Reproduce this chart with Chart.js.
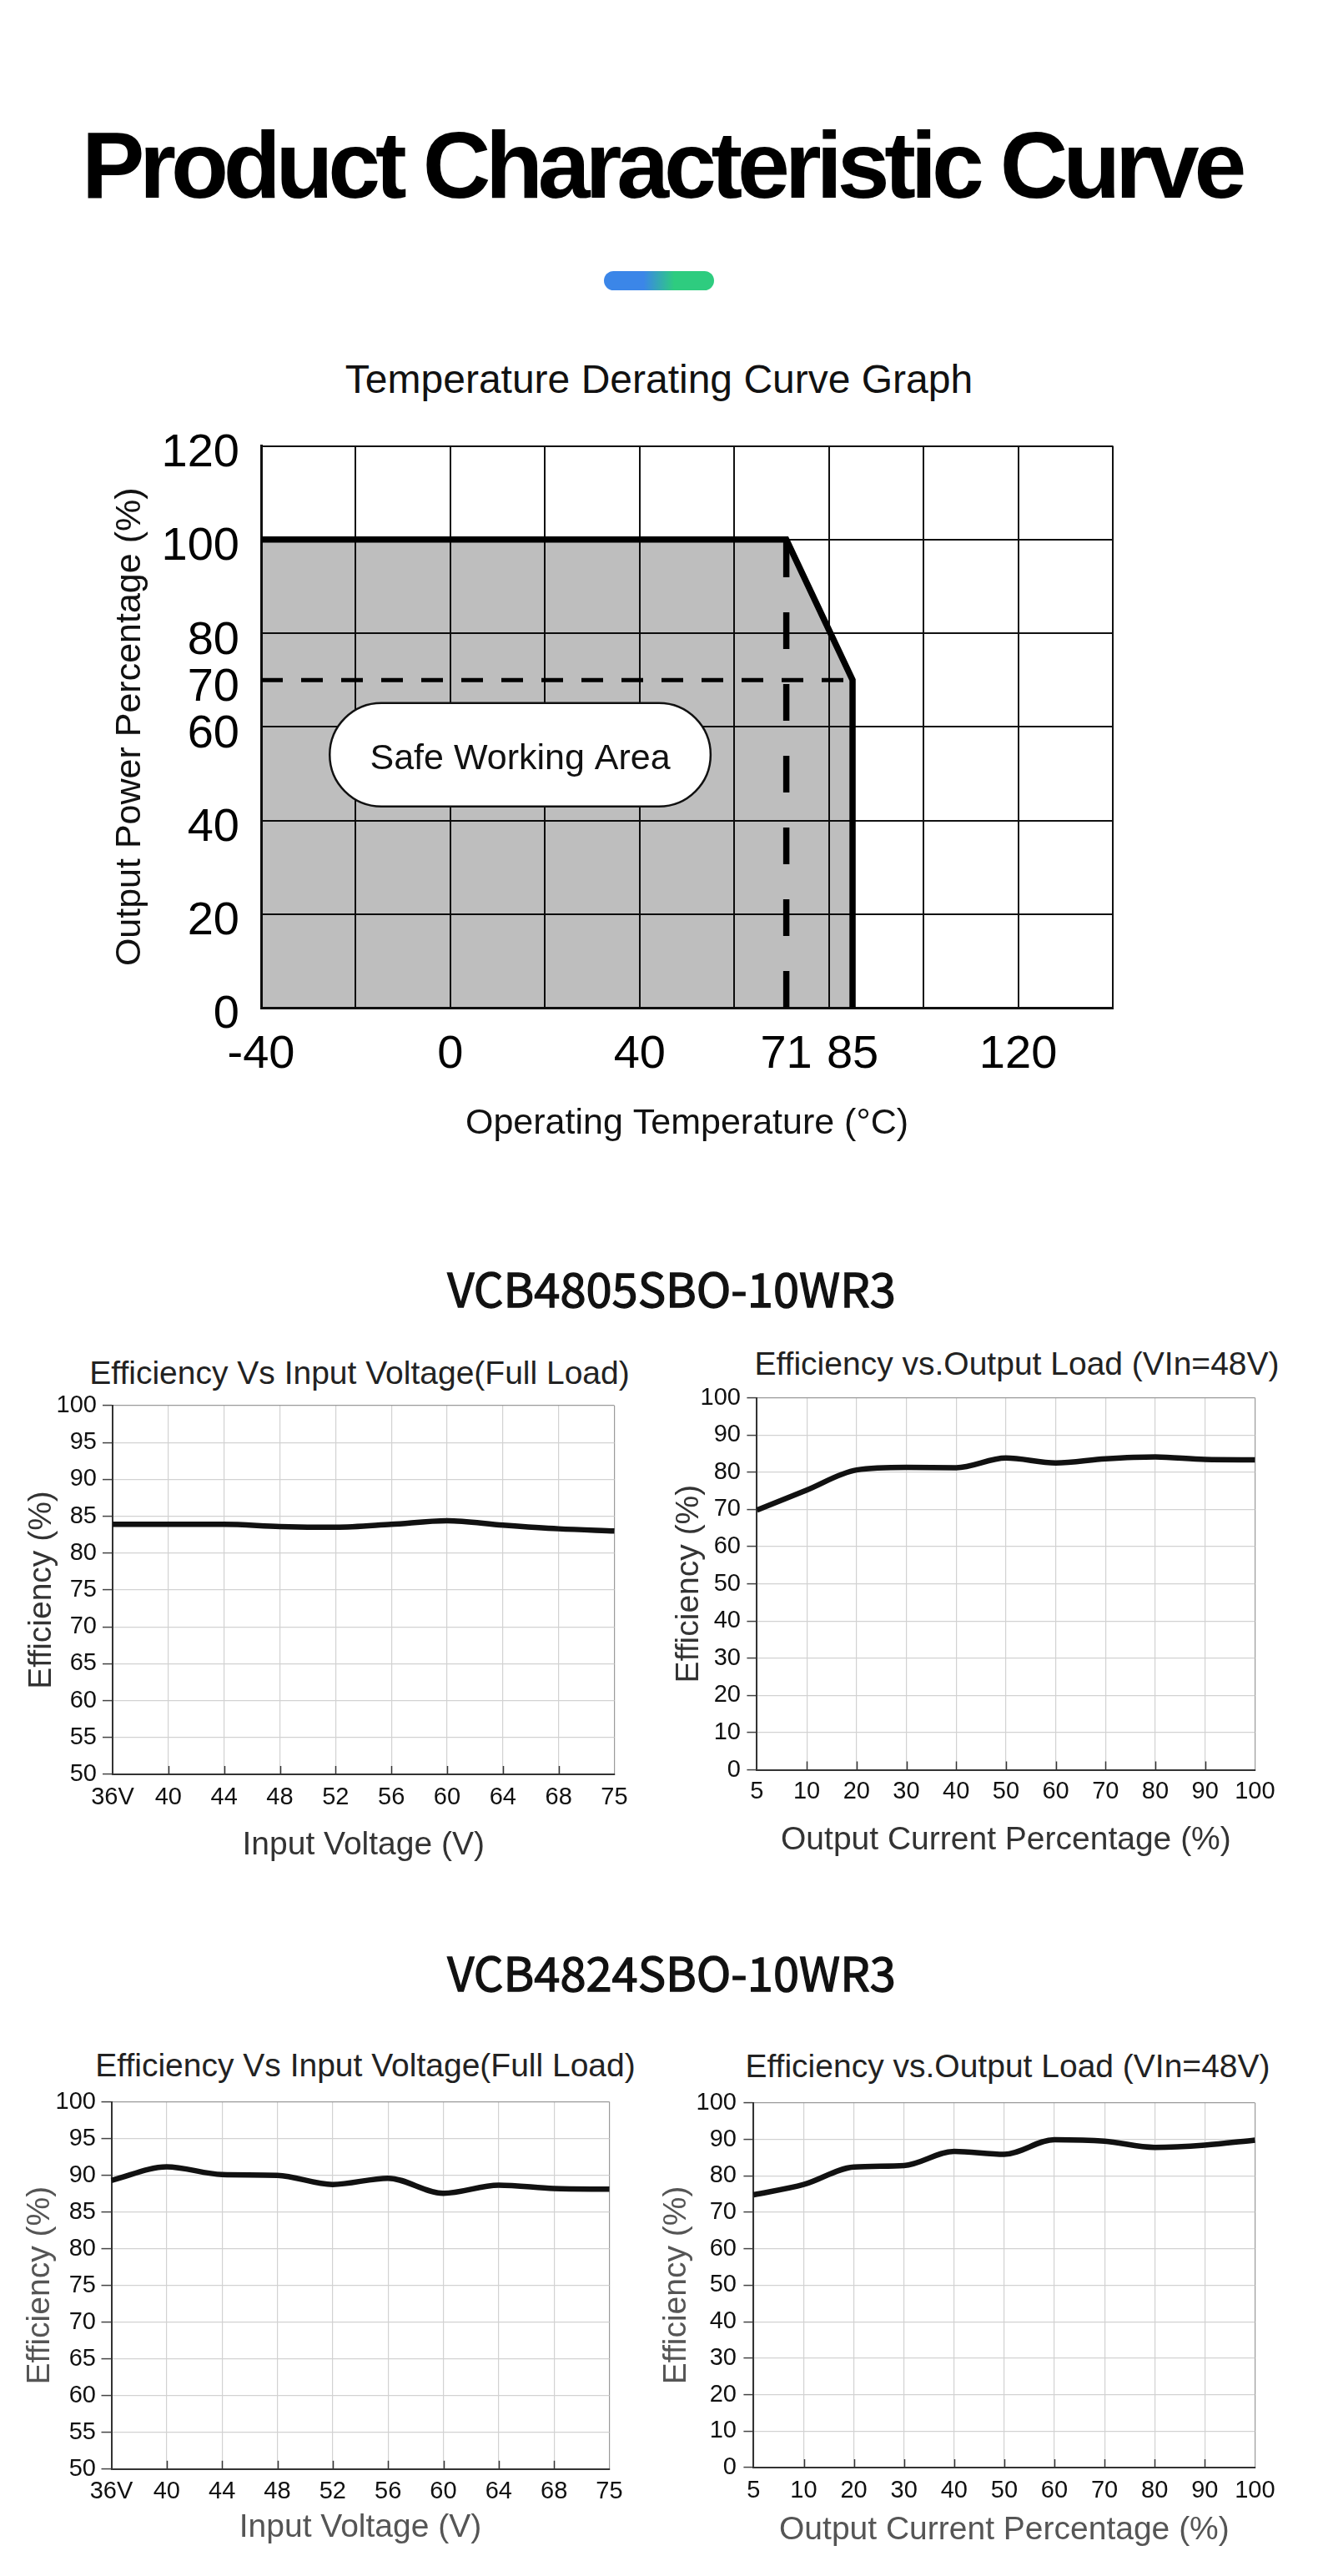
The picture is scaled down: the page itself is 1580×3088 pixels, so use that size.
<!DOCTYPE html>
<html>
<head>
<meta charset="utf-8">
<script src="https://cdn.jsdelivr.net/npm/chart.js@4.4.1/dist/chart.umd.min.js"></script>
<style>
html, body { margin: 0; padding: 0; background: #ffffff; }
body { width: 1580px; height: 3088px; position: relative; overflow: hidden; font-family: "Liberation Sans", Arial, sans-serif; }
.t { position: absolute; white-space: nowrap; transform: translateX(-50%); color: #111; }
canvas { position: absolute; }
#bar { position: absolute; left: 724px; top: 325px; width: 132px; height: 23px; border-radius: 11.5px;
  background: linear-gradient(90deg, #3b86e8 0%, #3b86e8 36%, #2ecc7f 64%, #2ecc7f 100%); }
#head1, #head2 { -webkit-text-stroke: 1.3px #111; }
</style>
</head>
<body>
<div id="mainTitle" class="t">Product Characteristic Curve</div>
<div id="bar"></div>
<div id="derTitle" class="t">Temperature Derating Curve Graph</div>
<div id="head1" class="t">VCB4805SBO-10WR3</div>
<div id="head2" class="t">VCB4824SBO-10WR3</div>
<div id="e1Title" class="t">Efficiency Vs Input Voltage(Full Load)</div>
<div id="e2Title" class="t">Efficiency vs.Output Load (VIn=48V)</div>
<div id="e3Title" class="t">Efficiency Vs Input Voltage(Full Load)</div>
<div id="e4Title" class="t">Efficiency vs.Output Load (VIn=48V)</div>
<script>
// ================= DATA =================
// Temperature derating curve
const deratingTemps = [-40, 71, 85, 85];
const deratingPower = [100, 100, 70, 0];
const deratingXTickValues = [-40, -20, 0, 20, 40, 60, 71, 80, 85, 100, 120, 140];
const deratingXTickLabels = ['-40', '', '0', '', '40', '', '71', '', '85', '', '120', ''];
const deratingYTickValues = [0, 20, 40, 60, 70, 80, 100, 120];
const deratingYTickLabels = ['0', '20', '40', '60', '70', '80', '100', '120'];
const deratingNoGridX = [71, 85];
const deratingNoGridY = [70];
const safeAreaText = 'Safe Working Area';

// Efficiency charts
const inputVoltageLabels = ['36V', '40', '44', '48', '52', '56', '60', '64', '68', '75'];
const outputLoadLabels = ['5', '10', '20', '30', '40', '50', '60', '70', '80', '90', '100'];
const effVinTickValues = [50, 55, 60, 65, 70, 75, 80, 85, 90, 95, 100];
const effVinTickLabels = ['50', '55', '60', '65', '70', '75', '80', '85', '90', '95', '100'];
const effLoadTickValues = [0, 10, 20, 30, 40, 50, 60, 70, 80, 90, 100];
const effLoadTickLabels = ['0', '10', '20', '30', '40', '50', '60', '70', '80', '90', '100'];

const vcb4805EffVsVin  = [83.9, 83.9, 83.9, 83.6, 83.5, 83.9, 84.4, 83.8, 83.3, 83.0];
const vcb4805EffVsLoad = [69.8, 75.2, 80.6, 81.3, 81.2, 83.8, 82.5, 83.6, 84.1, 83.4, 83.3];
const vcb4824EffVsVin  = [89.3, 91.15, 90.1, 90.0, 88.75, 89.6, 87.55, 88.65, 88.2, 88.1];
const vcb4824EffVsLoad = [74.8, 77.6, 82.4, 82.8, 86.7, 85.9, 89.9, 89.5, 87.8, 88.4, 89.8];

// ================= LAYOUT / STYLE =================
const FONT = '"Liberation Sans", Arial, sans-serif';
const CJK = '"Noto Sans CJK SC", "Noto Sans", sans-serif';

function placeText(id, cx, capMid, css, extra) {
  const el = document.getElementById(id);
  const m = document.createElement('canvas').getContext('2d');
  m.font = css;
  const tm = m.measureText('H');
  const asc = tm.fontBoundingBoxAscent, desc = tm.fontBoundingBoxDescent;
  const capH = tm.actualBoundingBoxAscent;
  const fs = parseFloat(css.match(/([\d.]+)px/)[1]);
  const baseline = (fs - (asc + desc)) / 2 + asc;
  el.style.font = css;
  el.style.lineHeight = fs + 'px';
  el.style.left = cx + 'px';
  el.style.top = (capMid - (baseline - capH / 2)) + 'px';
  if (extra) Object.assign(el.style, extra);
}

placeText('mainTitle', 793, 198, 'bold 113px ' + FONT, { letterSpacing: '-6.2px', color: '#000' });
placeText('derTitle', 790, 455, '48px ' + FONT, { color: '#111' });
placeText('head1', 805, 1546.5, '56px ' + CJK, { color: '#111' });
placeText('head2', 805, 2366.5, '56px ' + CJK, { color: '#111' });
placeText('e1Title', 431, 1645.5, '39px ' + FONT, { color: '#222' });
placeText('e2Title', 1219, 1634, '39px ' + FONT, { color: '#222' });
placeText('e3Title', 438, 2475, '39px ' + FONT, { color: '#222' });
placeText('e4Title', 1208, 2476, '39px ' + FONT, { color: '#222' });

Chart.defaults.font.family = FONT;
Chart.defaults.devicePixelRatio = 1;

function makeCanvas(box) {
  const c = document.createElement('canvas');
  c.width = box[2]; c.height = box[3];
  c.style.left = box[0] + 'px'; c.style.top = box[1] + 'px';
  c.style.width = box[2] + 'px'; c.style.height = box[3] + 'px';
  document.body.appendChild(c);
  return c;
}

// geometry helper: canvas box + wanted chart area and label positions (absolute px)
function geometry(g) {
  const [cx, cy, cw, ch] = g.canvas;
  const [L, T, R, B] = g.area;
  return {
    padding: { left: 0, top: T - cy, right: cx + cw - R, bottom: 0 },
    yWidth: L - cx,
    xHeight: cy + ch - B,
    yTickPad: L - (g.yTickLen || 0) - g.yLabelRight,
    xTickPad: g.xLabelY - B - (g.xTickLen || 0) - 1.2 * g.tickSize / 2,
    yTitlePad: g.yTitleX - cx - g.titleSize / 2,
    xTitlePad: cy + ch - g.xTitleY - g.titleSize / 2
  };
}

// inward tick marks on the x axis
const innerTicks = {
  id: 'innerTicks',
  afterDatasetsDraw(chart, args, opts) {
    if (!opts || !opts.on) return;
    const xs = chart.scales.x, ctx = chart.ctx, b = chart.chartArea.bottom;
    ctx.save();
    ctx.strokeStyle = '#333'; ctx.lineWidth = 1.5;
    for (let i = 1; i < xs.ticks.length - 1; i++) {
      const x = Math.round(xs.getPixelForTick(i)) + 0.5;
      ctx.beginPath(); ctx.moveTo(x, b); ctx.lineTo(x, b - 10); ctx.stroke();
    }
    ctx.restore();
  }
};

function efficiencyChart(spec) {
  const g = geometry(spec.geo);
  const canvas = makeCanvas(spec.geo.canvas);
  const tickFont = { size: spec.geo.tickSize, family: FONT };
  const titleFont = { size: spec.geo.titleSize, family: FONT, lineHeight: 1 };
  const lastX = spec.labels.length - 1;
  return new Chart(canvas, {
    type: 'line',
    data: {
      labels: spec.labels,
      datasets: [{
        data: spec.values,
        borderColor: '#111',
        borderWidth: 6.5,
        pointRadius: 0,
        cubicInterpolationMode: 'monotone',
        fill: false
      }]
    },
    options: {
      responsive: false,
      animation: false,
      events: [],
      layout: { padding: g.padding },
      plugins: { legend: { display: false }, tooltip: { enabled: false }, innerTicks: { on: true } },
      scales: {
        x: {
          type: 'category',
          offset: false,
          afterFit: s => { s.height = g.xHeight; },
          grid: { color: c => (c.index === lastX ? '#9a9a9a' : '#d2d2d2'), lineWidth: 1.2, drawTicks: false },
          border: { display: true, color: '#333', width: 2 },
          ticks: { font: tickFont, color: '#111', padding: g.xTickPad, autoSkip: false, maxRotation: 0 },
          title: { display: true, text: spec.xTitle, font: titleFont, color: spec.titleColor, padding: { top: 0, bottom: g.xTitlePad } }
        },
        y: {
          type: 'linear',
          min: spec.yTicks[0],
          max: spec.yTicks[spec.yTicks.length - 1],
          afterBuildTicks: s => { s.ticks = spec.yTicks.map(v => ({ value: v })); },
          afterFit: s => { s.width = g.yWidth; },
          grid: {
            color: c => (c.tick && c.tick.value === spec.yTicks[spec.yTicks.length - 1] ? '#9a9a9a' : '#d2d2d2'),
            lineWidth: 1.2, drawTicks: true, tickLength: spec.geo.yTickLen, tickColor: '#444', tickWidth: 1.5
          },
          border: { display: true, color: '#333', width: 2 },
          ticks: {
            font: tickFont, color: '#111', padding: g.yTickPad, autoSkip: false,
            callback: (v, i) => spec.yLabels[i]
          },
          title: { display: true, text: 'Efficiency (%)', font: titleFont, color: spec.titleColor, padding: { top: g.yTitlePad, bottom: 0 } }
        }
      }
    },
    plugins: [innerTicks]
  });
}

// ---------- Derating chart ----------
const safeAreaBox = { xMin: -25.5, xMax: 55, yMin: 43, yMax: 65.1 };
const safeAreaPlugin = {
  id: 'safeArea',
  afterDatasetsDraw(chart) {
    const xs = chart.scales.x, ys = chart.scales.y, ctx = chart.ctx;
    const l = xs.getPixelForValue(safeAreaBox.xMin), r = xs.getPixelForValue(safeAreaBox.xMax);
    const t = ys.getPixelForValue(safeAreaBox.yMax), b = ys.getPixelForValue(safeAreaBox.yMin);
    const rad = (b - t) / 2;
    ctx.save();
    ctx.beginPath();
    ctx.moveTo(l + rad, t);
    ctx.lineTo(r - rad, t);
    ctx.arc(r - rad, t + rad, rad, -Math.PI / 2, Math.PI / 2);
    ctx.lineTo(l + rad, b);
    ctx.arc(l + rad, t + rad, rad, Math.PI / 2, Math.PI * 1.5);
    ctx.closePath();
    ctx.fillStyle = '#ffffff';
    ctx.fill();
    ctx.lineWidth = 2.5; ctx.strokeStyle = '#111';
    ctx.stroke();
    ctx.fillStyle = '#111';
    ctx.font = '43px ' + FONT;
    ctx.textAlign = 'center'; ctx.textBaseline = 'middle';
    ctx.fillText(safeAreaText, (l + r) / 2, (t + b) / 2 + 5);
    ctx.restore();
  }
};

(function () {
  const geo = {
    canvas: [0, 475, 1580, 925], area: [313, 527, 1334, 1208],
    yLabelRight: 287, yTickLen: 0, yTitleX: 156,
    xLabelY: 1265, xTickLen: 0, xTitleY: 1347,
    tickSize: 56, titleSize: 43
  };
  const g = geometry(geo);
  const canvas = makeCanvas(geo.canvas);
  const kneeT = deratingTemps[1], endT = deratingTemps[2], derated = deratingPower[2];
  const pts = deratingTemps.map((t, i) => ({ x: t, y: deratingPower[i] }));
  const tickFont = { size: geo.tickSize, family: FONT };
  const titleFont = { size: geo.titleSize, family: FONT, lineHeight: 1 };
  new Chart(canvas, {
    type: 'line',
    data: {
      datasets: [
        { data: pts, borderColor: '#000', borderWidth: 7.5, pointRadius: 0, tension: 0,
          fill: 'origin', backgroundColor: 'rgba(0,0,0,0.255)', borderJoinStyle: 'miter' },
        { data: [{ x: kneeT, y: deratingPower[3] }, { x: kneeT, y: deratingPower[0] }],
          borderColor: '#000', borderWidth: 7.5, borderDash: [44, 42], pointRadius: 0, fill: false },
        { data: [{ x: deratingTemps[0], y: derated }, { x: endT, y: derated }],
          borderColor: '#000', borderWidth: 5, borderDash: [26, 22], pointRadius: 0, fill: false }
      ]
    },
    options: {
      responsive: false,
      animation: false,
      events: [],
      layout: { padding: g.padding },
      plugins: { legend: { display: false }, tooltip: { enabled: false }, filler: { drawTime: 'beforeDatasetsDraw' } },
      scales: {
        x: {
          type: 'linear',
          min: deratingXTickValues[0],
          max: deratingXTickValues[deratingXTickValues.length - 1],
          afterBuildTicks: s => { s.ticks = deratingXTickValues.map(v => ({ value: v })); },
          afterFit: s => { s.height = g.xHeight; },
          grid: { color: c => (c.tick && deratingNoGridX.includes(c.tick.value) ? 'rgba(0,0,0,0)' : '#111'), lineWidth: 2, drawTicks: false },
          border: { display: true, color: '#111', width: 3 },
          ticks: { font: tickFont, color: '#000', padding: g.xTickPad, autoSkip: false, maxRotation: 0,
            callback: (v, i) => deratingXTickLabels[i] },
          title: { display: true, text: 'Operating Temperature (°C)', font: titleFont, color: '#111', padding: { top: 0, bottom: g.xTitlePad } }
        },
        y: {
          type: 'linear',
          min: deratingYTickValues[0],
          max: deratingYTickValues[deratingYTickValues.length - 1],
          afterBuildTicks: s => { s.ticks = deratingYTickValues.map(v => ({ value: v })); },
          afterFit: s => { s.width = g.yWidth; },
          grid: { color: c => (c.tick && deratingNoGridY.includes(c.tick.value) ? 'rgba(0,0,0,0)' : '#111'), lineWidth: 2, drawTicks: false },
          border: { display: true, color: '#111', width: 3 },
          ticks: { font: tickFont, color: '#000', padding: g.yTickPad, labelOffset: 9, autoSkip: false,
            callback: (v, i) => deratingYTickLabels[i] },
          title: { display: true, text: 'Output Power Percentage (%)', font: titleFont, color: '#111', padding: { top: g.yTitlePad, bottom: 0 } }
        }
      }
    },
    plugins: [safeAreaPlugin]
  });
})();

// ---------- Efficiency charts ----------
efficiencyChart({
  geo: { canvas: [0, 1660, 790, 600], area: [135, 1685, 736.5, 2127], yLabelRight: 116, yTickLen: 12,
         yTitleX: 50, xLabelY: 2155, xTitleY: 2212, tickSize: 29, titleSize: 39 },
  labels: inputVoltageLabels, values: vcb4805EffVsVin,
  yTicks: effVinTickValues, yLabels: effVinTickLabels,
  xTitle: 'Input Voltage (V)', titleColor: '#333'
});
efficiencyChart({
  geo: { canvas: [790, 1650, 790, 600], area: [907.4, 1675.6, 1504.4, 2121.5], yLabelRight: 888, yTickLen: 12,
         yTitleX: 826, xLabelY: 2148, xTitleY: 2206, tickSize: 29, titleSize: 39 },
  labels: outputLoadLabels, values: vcb4805EffVsLoad,
  yTicks: effLoadTickValues, yLabels: effLoadTickLabels,
  xTitle: 'Output Current Percentage (%)', titleColor: '#333'
});
efficiencyChart({
  geo: { canvas: [0, 2495, 790, 585], area: [133.5, 2519.6, 730.5, 2959.8], yLabelRight: 115, yTickLen: 12,
         yTitleX: 48, xLabelY: 2987, xTitleY: 3030, tickSize: 29, titleSize: 39 },
  labels: inputVoltageLabels, values: vcb4824EffVsVin,
  yTicks: effVinTickValues, yLabels: effVinTickLabels,
  xTitle: 'Input Voltage (V)', titleColor: '#555'
});
efficiencyChart({
  geo: { canvas: [790, 2495, 790, 585], area: [903.4, 2516, 1504.4, 2958], yLabelRight: 883, yTickLen: 12,
         yTitleX: 811, xLabelY: 2986, xTitleY: 3033, tickSize: 29, titleSize: 39 },
  labels: outputLoadLabels, values: vcb4824EffVsLoad,
  yTicks: effLoadTickValues, yLabels: effLoadTickLabels,
  xTitle: 'Output Current Percentage (%)', titleColor: '#555'
});
</script>
</body>
</html>
